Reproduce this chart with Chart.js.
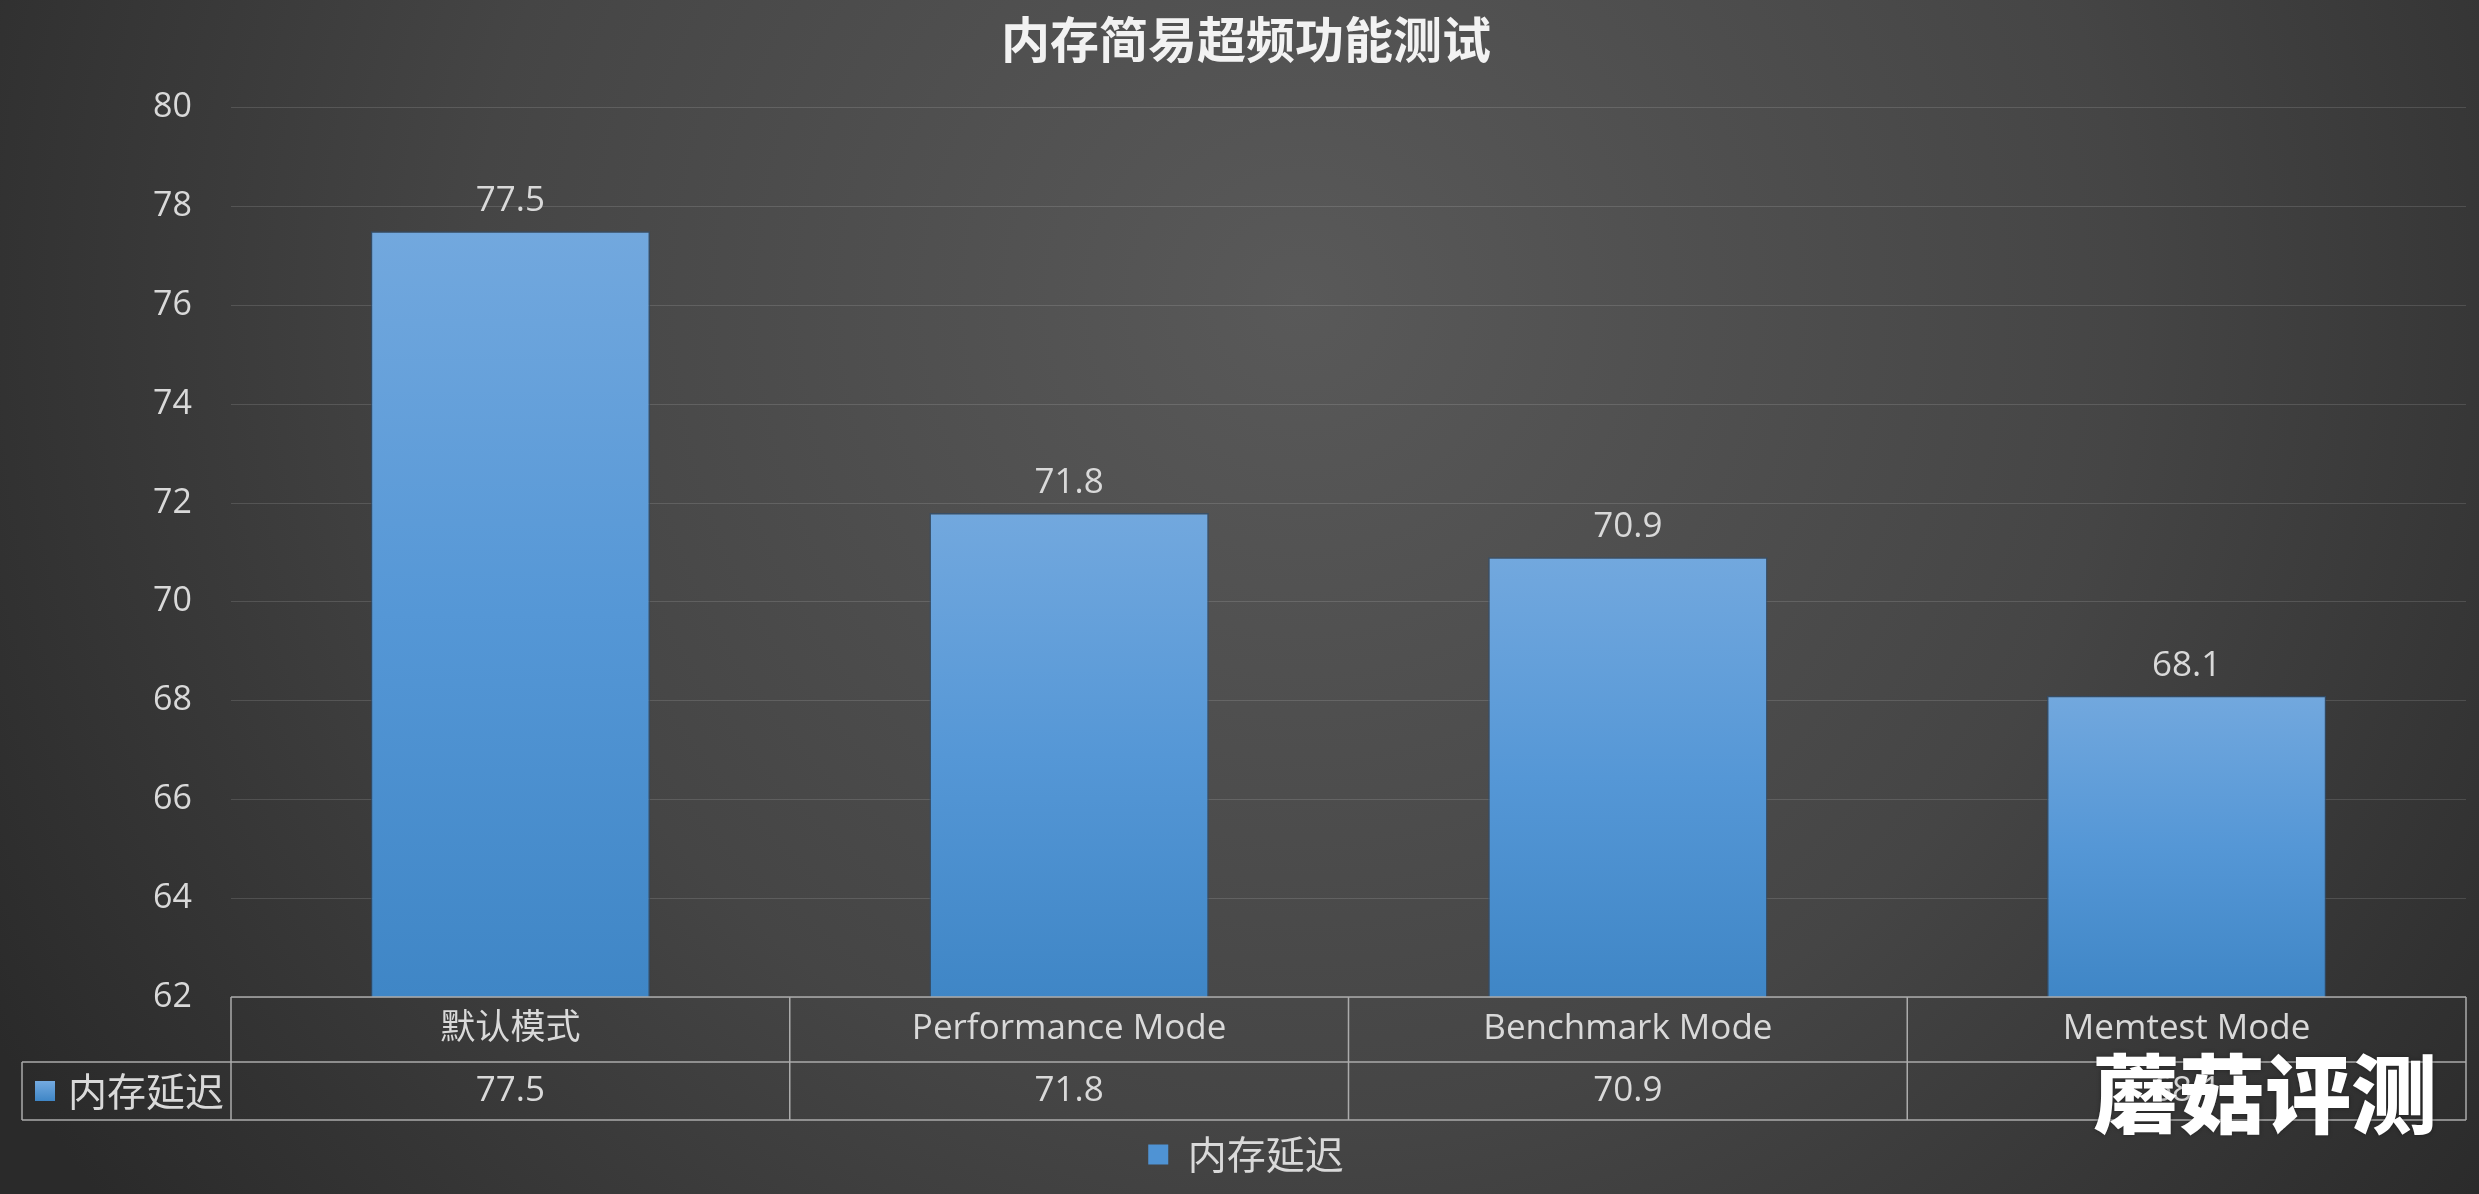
<!DOCTYPE html>
<html>
<head>
<meta charset="utf-8">
<script src="https://cdn.jsdelivr.net/npm/chart.js@4.4.0/dist/chart.umd.min.js"></script>
<style>
  html, body { margin: 0; padding: 0; background: #333; }
  canvas { display: block; }
</style>
</head>
<body>
<canvas id="chart" width="2479" height="1194"></canvas>
<script>
// 数据
const chartTitle = '内存简易超频功能测试';
const categories = ['默认模式', 'Performance Mode', 'Benchmark Mode', 'Memtest Mode'];
const seriesName = '内存延迟';
const latency = [77.5, 71.8, 70.9, 68.1];
const yMin = 62;
const yMax = 80;
const yStep = 2;
const watermark = '蘑菇评测';

const textColor = '#d9d9d9';
const lineColor = '#ababab';
const latinFont = "'Open Sans', 'Noto Sans CJK SC', sans-serif";
const cjkFont = "'Noto Sans CJK SC', sans-serif";

// pozadina - tamni radijalni gradijent
const bgPlugin = {
  id: 'bg',
  beforeDraw(chart) {
    const { ctx, width, height } = chart;
    const g = ctx.createRadialGradient(1300, 300, 0, 1300, 300, 1500);
    g.addColorStop(0, '#595959');
    g.addColorStop(0.55, '#454545');
    g.addColorStop(1, '#2a2a2a');
    ctx.save();
    ctx.fillStyle = g;
    ctx.fillRect(0, 0, width, height);
    ctx.restore();
  }
};

// vrednosti iznad stubova
const barLabelPlugin = {
  id: 'barLabels',
  afterDatasetsDraw(chart) {
    const { ctx } = chart;
    const meta = chart.getDatasetMeta(0);
    ctx.save();
    ctx.font = `35px ${latinFont}`;
    ctx.fillStyle = textColor;
    ctx.textAlign = 'center';
    ctx.textBaseline = 'middle';
    meta.data.forEach((bar, i) => {
      ctx.fillText(latency[i].toFixed(1), bar.x, bar.y - 30);
    });
    ctx.restore();
  }
};

// tabela podataka ispod ose
const tablePlugin = {
  id: 'dataTable',
  afterDraw(chart) {
    const { ctx, chartArea } = chart;
    const x = chart.scales.x;
    const top = chartArea.bottom;
    const mid = top + 65;
    const bottom = top + 123;
    const leftOuter = 22;
    const step = (chartArea.right - chartArea.left) / categories.length;

    ctx.save();
    ctx.strokeStyle = lineColor;
    ctx.lineWidth = 1.5;
    ctx.beginPath();
    ctx.moveTo(chartArea.left, top); ctx.lineTo(chartArea.right, top);
    ctx.moveTo(leftOuter, mid); ctx.lineTo(chartArea.right, mid);
    ctx.moveTo(leftOuter, bottom); ctx.lineTo(chartArea.right, bottom);
    ctx.moveTo(leftOuter, mid); ctx.lineTo(leftOuter, bottom);
    for (let i = 0; i <= categories.length; i++) {
      const px = i < categories.length ? x.getPixelForValue(i) - step / 2 : chartArea.right;
      ctx.moveTo(px, top); ctx.lineTo(px, bottom);
    }
    ctx.stroke();

    ctx.fillStyle = textColor;
    ctx.textAlign = 'center';
    ctx.textBaseline = 'middle';
    categories.forEach((c, i) => {
      const px = x.getPixelForValue(i);
      ctx.font = `35px ${latinFont}`;
      ctx.fillText(c, px, (top + mid) / 2);
      ctx.fillText(latency[i].toFixed(1), px, (mid + bottom) / 2);
    });

    // legend key u tabeli
    const ky = (mid + bottom) / 2;
    const kg = ctx.createLinearGradient(0, ky - 10, 0, ky + 10);
    kg.addColorStop(0, '#74aae0');
    kg.addColorStop(1, '#3f86c6');
    ctx.fillStyle = kg;
    ctx.fillRect(35, ky - 10, 20, 20);
    ctx.fillStyle = textColor;
    ctx.textAlign = 'left';
    ctx.font = `39px ${cjkFont}`;
    ctx.fillText(seriesName, 68, ky);
    ctx.restore();
  }
};

// vodeni žig
const watermarkPlugin = {
  id: 'watermark',
  afterDraw(chart) {
    const { ctx } = chart;
    ctx.save();
    ctx.font = `900 86px ${cjkFont}`;
    ctx.fillStyle = '#ffffff';
    ctx.textAlign = 'left';
    ctx.textBaseline = 'middle';
    ctx.shadowColor = 'rgba(0,0,0,0.35)';
    ctx.shadowBlur = 4;
    ctx.fillText(watermark, 2093, 1094);
    ctx.restore();
  }
};

function barGradient(context) {
  const chart = context.chart;
  const { chartArea } = chart;
  if (!chartArea || context.dataIndex === undefined) return '#5597d6';
  const y = chart.scales.y;
  const topY = y.getPixelForValue(latency[context.dataIndex]);
  const g = chart.ctx.createLinearGradient(0, topY, 0, chartArea.bottom);
  g.addColorStop(0, '#72a8de');
  g.addColorStop(0.5, '#5597d6');
  g.addColorStop(1, '#3f86c6');
  return g;
}

new Chart(document.getElementById('chart'), {
  type: 'bar',
  data: {
    labels: categories,
    datasets: [{
      label: seriesName,
      data: latency,
      backgroundColor: barGradient,
      borderColor: 'rgba(45,80,115,0.7)',
      borderWidth: 1.5,
      barPercentage: 0.5,
      categoryPercentage: 1.0
    }]
  },
  options: {
    responsive: false,
    animation: false,
    layout: { padding: { top: 1, left: 26, right: 13, bottom: 10 } },
    scales: {
      x: {
        grid: { display: false },
        border: { display: false },
        ticks: { display: false },
        afterFit(scale) { scale.height = 123; }
      },
      y: {
        min: yMin,
        max: yMax,
        ticks: {
          stepSize: yStep,
          color: textColor,
          font: { size: 34, family: latinFont },
          padding: 39
        },
        grid: {
          color: 'rgba(255,255,255,0.13)',
          lineWidth: 1,
          drawTicks: false
        },
        border: { display: false },
        afterFit(scale) { scale.width = 205; }
      }
    },
    plugins: {
      title: {
        display: true,
        text: chartTitle,
        color: '#f2f2f2',
        font: { size: 49, weight: 'bold', family: cjkFont },
        padding: { top: 9, bottom: 39 }
      },
      legend: {
        position: 'bottom',
        labels: {
          color: textColor,
          font: { size: 39, family: cjkFont },
          boxWidth: 20,
          boxHeight: 20,
          padding: 15,
          generateLabels() {
            return [{
              text: seriesName,
              fillStyle: '#4f93d4',
              strokeStyle: '#4f93d4',
              lineWidth: 0,
              fontColor: textColor,
              hidden: false,
              datasetIndex: 0
            }];
          }
        }
      },
      tooltip: { enabled: false }
    }
  },
  plugins: [bgPlugin, barLabelPlugin, tablePlugin, watermarkPlugin]
});
</script>
</body>
</html>
